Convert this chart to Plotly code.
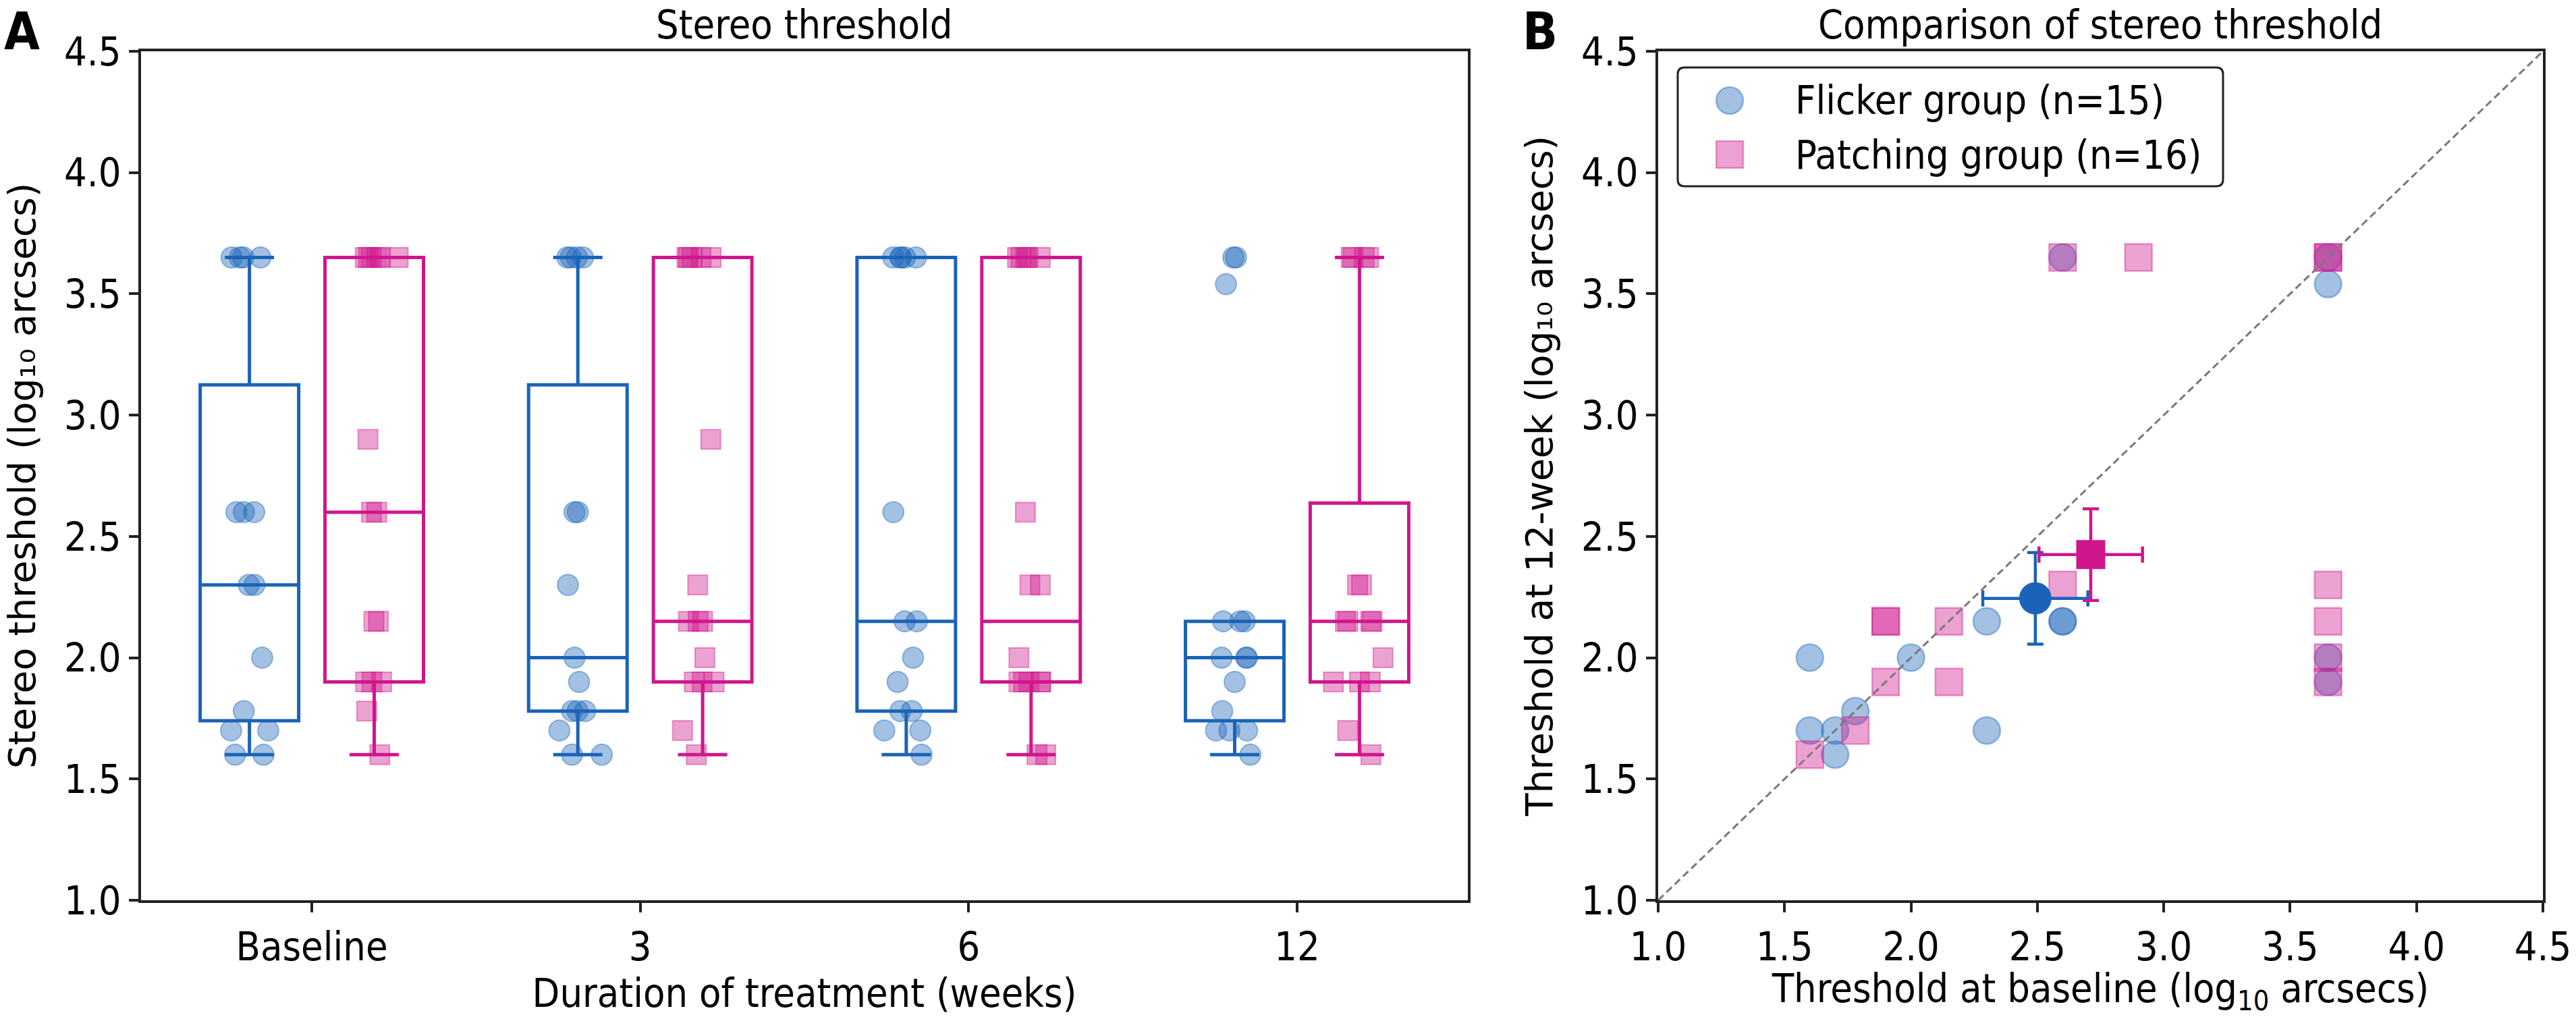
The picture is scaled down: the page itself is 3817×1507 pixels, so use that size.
import numpy as np
import plotly.graph_objects as go

# stereo thresholds, log10 arcsecs
weeks = ["Baseline", "3", "6", "12"]

# per subject, same order in baseline / week 12 (panel B pairs)
flicker_baseline = [1.6, 2.0, 2.3, 2.6, 2.6, 1.78, 1.6, 1.7, 1.7, 2.3, 3.65, 3.65, 2.6, 3.65, 3.65]
flicker_week12 = [2.0, 2.0, 2.15, 2.15, 2.15, 1.78, 1.7, 1.7, 1.6, 1.7, 2.0, 1.9, 3.65, 3.54, 3.65]
flicker_week3 = [3.65, 3.65, 3.65, 3.65, 2.6, 2.6, 2.3, 2.0, 1.9, 1.78, 1.78, 1.78, 1.7, 1.6, 1.6]
flicker_week6 = [3.65, 3.65, 3.65, 3.65, 3.65, 2.6, 2.15, 2.15, 2.0, 1.9, 1.78, 1.78, 1.7, 1.7, 1.6]

patching_baseline = [1.9, 1.9, 2.15, 2.6, 1.9, 2.15, 1.78, 1.6, 3.65, 3.65, 3.65, 3.65, 2.6, 2.9, 3.65, 3.65]
patching_week12 = [2.15, 2.15, 2.15, 2.3, 1.9, 1.9, 1.7, 1.6, 2.3, 2.15, 2.0, 1.9, 3.65, 3.65, 3.65, 3.65]
patching_week3 = [3.65, 3.65, 3.65, 3.65, 3.65, 2.9, 2.3, 2.15, 2.15, 2.15, 2.0, 1.9, 1.9, 1.9, 1.7, 1.6]
patching_week6 = [3.65, 3.65, 3.65, 3.65, 3.65, 2.6, 2.3, 2.3, 2.0, 1.9, 1.9, 1.9, 1.9, 1.9, 1.6, 1.6]

BLUE = "rgb(26,99,184)"
PINK = "rgb(208,22,140)"
BLUE_A = "rgba(26,99,184,0.4)"
PINK_A = "rgba(208,22,140,0.4)"
AXC = "#222222"
FONT_H = "DejaVu Sans Condensed, DejaVu Sans"   # horizontal text looks condensed
FONT_V = "DejaVu Sans"                          # rotated y labels do not
FS = 59
W, H = 3817, 1507


def box_stats(groups):
    out = dict(q1=[], median=[], q3=[], lowerfence=[], upperfence=[])
    for g in groups:
        v = np.array(g)
        q1, med, q3 = np.percentile(v, [25, 50, 75])
        iqr = q3 - q1
        out["q1"].append(q1)
        out["median"].append(med)
        out["q3"].append(q3)
        out["lowerfence"].append(v[v >= q1 - 1.5 * iqr].min())
        out["upperfence"].append(v[v <= q3 + 1.5 * iqr].max())
    return out


def sem(v):
    v = np.array(v)
    return v.std(ddof=1) / np.sqrt(len(v))


flicker_groups = [flicker_baseline, flicker_week3, flicker_week6, flicker_week12]
patching_groups = [patching_baseline, patching_week3, patching_week6, patching_week12]
offset = 0.19
bw = 0.3

fig = go.Figure()

# panel A: jittered points (plotly's own box jitter), then the boxes on top
for groups, sgn, fill, sym, sz in [
    (flicker_groups, -1, BLUE_A, "circle", 31),
    (patching_groups, 1, PINK_A, "square", 29),
]:
    xs, ys = [], []
    for i, g in enumerate(groups):
        xs += [i + sgn * offset] * len(g)
        ys += g
    fig.add_trace(go.Box(
        x=xs, y=ys, boxpoints="all", jitter=0.55, pointpos=0, width=bw,
        line=dict(width=0), fillcolor="rgba(0,0,0,0)",
        marker=dict(symbol=sym, size=sz, color=fill, line=dict(color=fill, width=2)),
        showlegend=False, hoverinfo="y", xaxis="x", yaxis="y",
    ))

for groups, sgn, col in [(flicker_groups, -1, BLUE), (patching_groups, 1, PINK)]:
    st = box_stats(groups)
    fig.add_trace(go.Box(
        x=[i + sgn * offset for i in range(len(groups))],
        width=bw, whiskerwidth=0.5, boxpoints=False,
        line=dict(color=col, width=5), fillcolor="rgba(0,0,0,0)",
        showlegend=False, xaxis="x", yaxis="y", **st,
    ))

# panel B: baseline vs week 12
fig.add_trace(go.Scatter(
    x=flicker_baseline, y=flicker_week12, mode="markers", name="Flicker group (n=15)",
    marker=dict(symbol="circle", size=40, color=BLUE_A, line=dict(color=BLUE_A, width=2.5)),
    xaxis="x2", yaxis="y2", showlegend=False,
))
fig.add_trace(go.Scatter(
    x=patching_baseline, y=patching_week12, mode="markers", name="Patching group (n=16)",
    marker=dict(symbol="square", size=40, color=PINK_A, line=dict(color=PINK_A, width=2.5)),
    xaxis="x2", yaxis="y2", showlegend=False,
))

# group means with SEM bars
for bx, by, col, sym, sz in [
    (flicker_baseline, flicker_week12, BLUE, "circle", 48),
    (patching_baseline, patching_week12, PINK, "square", 43),
]:
    fig.add_trace(go.Scatter(
        x=[np.mean(bx)], y=[np.mean(by)], mode="markers",
        marker=dict(symbol=sym, size=sz, color=col),
        error_x=dict(type="data", array=[sem(bx)], color=col, thickness=4.5, width=12),
        error_y=dict(type="data", array=[sem(by)], color=col, thickness=4.5, width=12),
        xaxis="x2", yaxis="y2", showlegend=False,
    ))

tick_vals = [1.0, 1.5, 2.0, 2.5, 3.0, 3.5, 4.0, 4.5]
tick_txt = ["%.1f" % t for t in tick_vals]
ax_common = dict(
    showline=True, mirror=True, linecolor=AXC, linewidth=3.5,
    ticks="outside", ticklen=14, tickwidth=3.5, tickcolor=AXC,
    showgrid=False, zeroline=False, automargin=False,
    tickfont=dict(family=FONT_H, size=FS, color="black"),
)

xA = (209 / W, 2175 / W)
xB = (2457 / W, 3768 / W)
yD = ((1507 - 1334) / H, (1507 - 76) / H)

fig.update_layout(
    width=W, height=H, margin=dict(l=0, r=0, t=0, b=0),
    paper_bgcolor="white", plot_bgcolor="white",
    font=dict(family=FONT_H, size=FS, color="black"),
    boxmode="overlay", showlegend=False,
    xaxis=dict(domain=xA, range=[-0.52, 3.52], tickvals=[0, 1, 2, 3], ticktext=weeks,
               title=dict(text="Duration of treatment (weeks)", standoff=8,
                          font=dict(family=FONT_H, size=FS)), **ax_common),
    yaxis=dict(domain=yD, range=[1, 4.5], tickvals=tick_vals, ticktext=tick_txt,
               title=dict(text="Stereo threshold (log₁₀ arcsecs)", standoff=26,
                          font=dict(family=FONT_V, size=55)), **ax_common),
    xaxis2=dict(domain=xB, range=[1, 4.5], tickvals=tick_vals, ticktext=tick_txt, anchor="y2",
                title=dict(text="Threshold at baseline (log<sub>10</sub> arcsecs)", standoff=8,
                           font=dict(family=FONT_H, size=FS)), **ax_common),
    yaxis2=dict(domain=yD, range=[1, 4.5], tickvals=tick_vals, ticktext=tick_txt, anchor="x2",
                title=dict(text="Threshold at 12-week (log₁₀ arcsecs)", standoff=26,
                           font=dict(family=FONT_V, size=55)), **ax_common),
)

# identity line in panel B
fig.add_shape(type="line", xref="x2", yref="y2", x0=1, y0=1, x1=4.5, y1=4.5,
              line=dict(color="rgb(120,120,120)", width=3, dash="11px,6px"), layer="above")


def px(x):
    return x / W


def py(y):
    return 1 - y / H


def rounded_box(x0, y0, x1, y1, r=10):
    # pixel box -> paper-coordinate svg path with rounded corners
    rx, ry = r / W, r / H
    a, b, c, d = px(x0), py(y1), px(x1), py(y0)
    return (f"M{a + rx},{b} L{c - rx},{b} Q{c},{b} {c},{b + ry} "
            f"L{c},{d - ry} Q{c},{d} {c - rx},{d} L{a + rx},{d} Q{a},{d} {a},{d - ry} "
            f"L{a},{b + ry} Q{a},{b} {a + rx},{b} Z")


# legend of panel B, drawn by hand so the symbols keep their plotted size
fig.add_shape(type="path", xref="paper", yref="paper", path=rounded_box(2486, 100, 3294, 276),
              line=dict(color=AXC, width=3), fillcolor="white", layer="above")
fig.add_shape(type="circle", xref="paper", yref="paper",
              x0=px(2543), x1=px(2583), y0=py(169), y1=py(129),
              line=dict(color=BLUE_A, width=2.5), fillcolor=BLUE_A, layer="above")
fig.add_shape(type="rect", xref="paper", yref="paper",
              x0=px(2543), x1=px(2583), y0=py(249), y1=py(209),
              line=dict(color=PINK_A, width=2.5), fillcolor=PINK_A, layer="above")
for label, yy in [("Flicker group (n=15)", 149), ("Patching group (n=16)", 229)]:
    fig.add_annotation(text=label, xref="paper", yref="paper", x=px(2658), y=py(yy),
                       xanchor="left", yanchor="middle", showarrow=False,
                       font=dict(family=FONT_H, size=FS, color="black"))

# panel titles and letters
fig.add_annotation(text="Stereo threshold", xref="paper", yref="paper",
                   x=px(1192), y=1, xanchor="center", yanchor="top",
                   showarrow=False, font=dict(family=FONT_H, size=FS, color="black"))
fig.add_annotation(text="Comparison of stereo threshold", xref="paper", yref="paper",
                   x=px(3112), y=1, xanchor="center", yanchor="top",
                   showarrow=False, font=dict(family=FONT_H, size=FS, color="black"))
fig.add_annotation(text="<b>A</b>", xref="paper", yref="paper", x=px(4), y=1,
                   xanchor="left", yanchor="top", showarrow=False,
                   font=dict(family=FONT_H, size=76, color="black"))
fig.add_annotation(text="<b>B</b>", xref="paper", yref="paper", x=px(2254), y=1,
                   xanchor="left", yanchor="top", showarrow=False,
                   font=dict(family=FONT_H, size=76, color="black"))

fig.write_html("out.html", config={"displayModeBar": False},
               post_script="document.body.style.margin='0';document.body.style.overflow='hidden';")
